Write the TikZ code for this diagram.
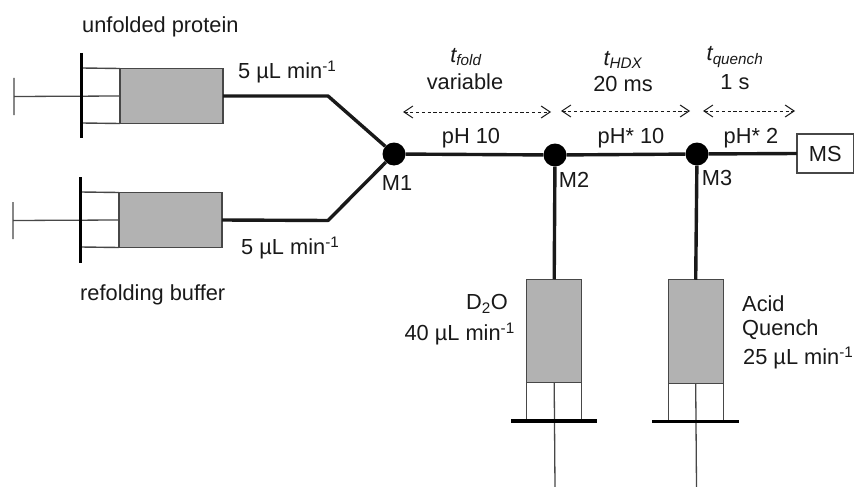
\documentclass[tikz,border=0pt]{standalone}
\usepackage{fontspec}
\setmainfont{Liberation Sans}
\usetikzlibrary{arrows.meta}
\definecolor{barrel}{gray}{0.70}
\definecolor{ink}{gray}{0.10}
\definecolor{thin}{gray}{0.28}
\tikzset{
  lbl/.style={inner sep=0pt,font=\fontsize{21.8}{24}\selectfont,text=ink},
  lbll/.style={lbl,anchor=west},
  lblr/.style={lbl,anchor=east},
  mixer/.style={circle,fill=black,inner sep=0pt,minimum size=23pt},
  tube/.style={line width=3.4pt,draw=ink,line join=round},
  wall/.style={line width=1.4pt,draw=thin},
  flange/.style={line width=3.8pt,draw=black},
  rod/.style={line width=1.3pt,draw=thin},
  grey/.style={draw=thin,line width=1.4pt,fill=barrel,inner sep=0pt,outer sep=0pt},
  span/.style={dashed,dash pattern=on 3.2pt off 2.6pt,line width=1pt,draw=ink,{Straight Barb[length=9pt,width=12pt]}-{Straight Barb[length=9pt,width=12pt]}},
  msbox/.style={draw=thin,line width=1.4pt,fill=white,inner sep=0pt,outer sep=0pt}
}
\newcommand{\ulmin}[1]{#1 µL min\textsuperscript{-1}}
\begin{document}
\begin{tikzpicture}[x=1pt,y=-1pt]
\useasboundingbox (0,0) rectangle (854,487);
% mixers
\node[mixer] (M1) at (394,154) {};
\node[mixer] (M2) at (555,155) {};
\node[mixer] (M3) at (697,154) {};
\node[msbox,minimum width=56.5pt,minimum height=39pt] (MS) at (825.2,153.5) {\fontsize{21.8}{24}\selectfont\color{ink}MS};
% syringe 1
\node[grey,minimum width=103pt,minimum height=55pt] (g1) at (171.5,96) {};
\coordinate (b1a) at (82,68); \coordinate (b1b) at (82,123);
\coordinate (f1a) at (81.5,53); \coordinate (f1b) at (81.5,138);
\coordinate (r1) at (14,96.5); \coordinate (e1a) at (14,78); \coordinate (e1b) at (14,115);
\coordinate (k1) at (328,96);
\draw[wall] (b1a) -- (g1.north west) (b1b) -- (g1.south west);
\draw[rod] (r1) -- (g1.west) (e1a) -- (e1b);
\draw[flange] (f1a) -- (f1b);
\draw[tube] (g1.east) -- (k1) -- (M1);
% syringe 2
\node[grey,minimum width=103pt,minimum height=55pt] (g2) at (170.5,220) {};
\coordinate (b2a) at (81,192); \coordinate (b2b) at (81,247);
\coordinate (f2a) at (80.5,177); \coordinate (f2b) at (80.5,263);
\coordinate (r2) at (13,220.5); \coordinate (e2a) at (13,202); \coordinate (e2b) at (13,239);
\coordinate (k2) at (328,220.5);
\draw[wall] (b2a) -- (g2.north west) (b2b) -- (g2.south west);
\draw[rod] (r2) -- (g2.west) (e2a) -- (e2b);
\draw[flange] (f2a) -- (f2b);
\draw[tube] (g2.east) -- (k2) -- (M1);
% main line
\draw[tube] (M1) -- (M2);
\draw[tube] (M2) -- (M3);
\draw[tube] (M3) -- (MS.west);
% syringe 3
\node[grey,minimum width=55pt,minimum height=103.5pt] (g3) at (554.2,331) {};
\coordinate (b3a) at (526.7,420); \coordinate (b3b) at (581.7,420);
\coordinate (f3a) at (511,421); \coordinate (f3b) at (597,421);
\coordinate (r3) at (555,487);
\draw[wall] (b3a) -- (g3.south west) (b3b) -- (g3.south east);
\draw[rod] (r3) -- (g3.south);
\draw[flange] (f3a) -- (f3b);
\draw[tube] (M2) -- (g3.north);
% syringe 4
\node[grey,minimum width=55pt,minimum height=103.5pt] (g4) at (695.7,331.5) {};
\coordinate (b4a) at (668.2,421); \coordinate (b4b) at (723.2,421);
\coordinate (f4a) at (652,421.5); \coordinate (f4b) at (739,421.5);
\coordinate (r4) at (696.5,487);
\draw[wall] (b4a) -- (g4.south west) (b4b) -- (g4.south east);
\draw[rod] (r4) -- (g4.south);
\draw[flange] (f4a) -- (f4b);
\draw[tube] (M3) -- (g4.north);
% spans
\coordinate (s1a) at (403,112); \coordinate (s1b) at (551,112);
\coordinate (s2a) at (561,111); \coordinate (s2b) at (690,111);
\coordinate (s3a) at (703,111); \coordinate (s3b) at (795,111);
\draw[span] (s1a) -- (s1b);
\draw[span] (s2a) -- (s2b);
\draw[span] (s3a) -- (s3b);
% labels
\node[lbll] (t1) at (82,27) {unfolded protein};
\node[lbll] (t2) at (80,295) {refolding buffer};
\node[lbll] (t3) at (238,72) {\ulmin{5}};
\node[lbll] (t4) at (241,248) {\ulmin{5}};
\node[lbl] (t5) at (466,57) {\itshape t\textsubscript{fold}};
\node[lbl] (t6) at (465,82) {variable};
\node[lbl] (t7) at (623,60) {\itshape t\textsubscript{HDX}};
\node[lbl] (t8) at (623,84) {20 ms};
\node[lbl] (t9) at (735,57) {\itshape t\textsubscript{quench}};
\node[lbl] (t10) at (735,82) {1 s};
\node[lbl] (t11) at (471,138) {pH 10};
\node[lbl] (t12) at (631,138) {pH* 10};
\node[lbl] (t13) at (751,138) {pH* 2};
\node[lbl] (t14) at (397,183) {M1};
\node[lbl] (t15) at (574,180) {M2};
\node[lbl] (t16) at (717,178) {M3};
\node[lbl] (t17) at (487,304) {D\textsubscript{2}O};
\node[lblr] (t18) at (515,334) {\ulmin{40}};
\node[lbll] (t19) at (742,304) {Acid};
\node[lbll] (t20) at (742,330) {Quench};
\node[lbll] (t21) at (743,358) {\ulmin{25}};
\end{tikzpicture}
\end{document}
